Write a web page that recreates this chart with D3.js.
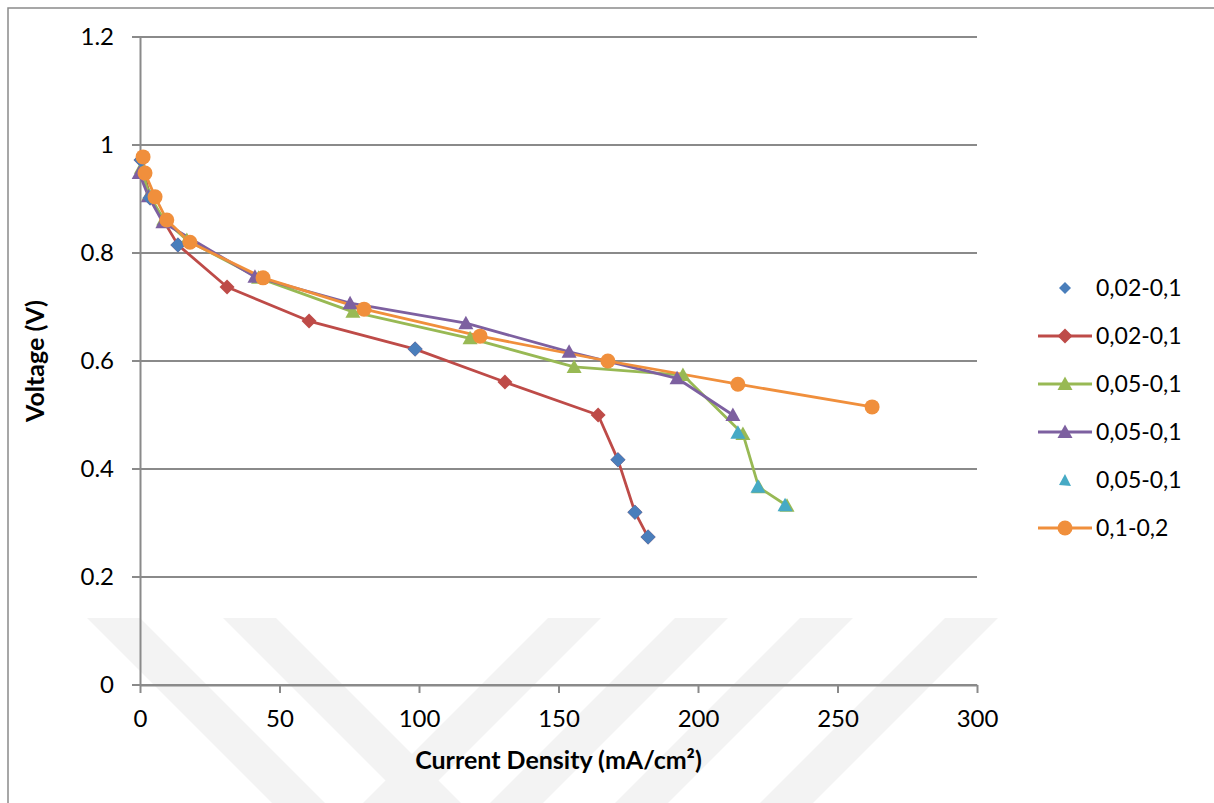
<!DOCTYPE html>
<html>
<head>
<meta charset="utf-8">
<script src="https://cdn.jsdelivr.net/npm/d3@7"></script>
<style>
  html, body { margin: 0; padding: 0; background: #fff; }
  svg text { font-family: Lato, "Open Sans", sans-serif; fill: #000; }
</style>
</head>
<body>
<div id="chart"></div>
<script>
// current density (mA/cm2) vs voltage (V)
var seriesNames = ["0,02-0,1", "0,02-0,1", "0,05-0,1", "0,05-0,1", "0,05-0,1", "0,1-0,2"];

var blueX = [0.4, 3.6, 13.6, 98.6, 171.3, 177.4, 182.1];
var blueY = [0.972, 0.902, 0.815, 0.622, 0.417, 0.320, 0.274];

var redX = [0.4, 3.6, 13.6, 31.2, 60.6, 98.6, 130.8, 164.2, 171.3, 177.4, 182.1];
var redY = [0.972, 0.902, 0.815, 0.737, 0.674, 0.622, 0.561, 0.500, 0.417, 0.320, 0.274];

var greenX = [0.5, 3.2, 8.5, 16.8, 42.5, 76.3, 118.3, 155.6, 194.6, 216.1, 221.8, 231.9];
var greenY = [0.958, 0.908, 0.862, 0.824, 0.754, 0.691, 0.642, 0.589, 0.574, 0.465, 0.366, 0.332];

var purpleX = [-0.3, 3.0, 8.2, 41.2, 75.3, 116.8, 153.8, 192.5, 212.5];
var purpleY = [0.948, 0.905, 0.857, 0.756, 0.707, 0.670, 0.617, 0.568, 0.500];

var cyanX = [214.3, 221.5, 231.2];
var cyanY = [0.467, 0.367, 0.333];

var orangeX = [1.1, 1.8, 5.4, 9.6, 17.9, 44.1, 80.3, 121.9, 167.7, 214.3, 262.4];
var orangeY = [0.978, 0.948, 0.904, 0.861, 0.820, 0.754, 0.696, 0.646, 0.600, 0.557, 0.515];

var xTicks = [0, 50, 100, 150, 200, 250, 300];
var xTickLabels = ["0", "50", "100", "150", "200", "250", "300"];
var yTicks = [0, 0.2, 0.4, 0.6, 0.8, 1, 1.2];
var yTickLabels = ["0", "0.2", "0.4", "0.6", "0.8", "1", "1.2"];

var W = 1214, H = 803;
var margin = {top: 37, right: 237, bottom: 118, left: 140};
var plotW = W - margin.left - margin.right,
    plotH = H - margin.top - margin.bottom;

var zip = function (xs, ys) { return xs.map(function (v, i) { return {x: v, y: ys[i]}; }); };

var series = [
  {name: seriesNames[0], data: zip(blueX, blueY), color: "#4a7ebb", line: false, shape: "diamond"},
  {name: seriesNames[1], data: zip(redX, redY), color: "#be4b48", line: true, shape: "diamond"},
  {name: seriesNames[2], data: zip(greenX, greenY), color: "#98b954", line: true, shape: "triangle"},
  {name: seriesNames[3], data: zip(purpleX, purpleY), color: "#7d60a0", line: true, shape: "triangle"},
  {name: seriesNames[4], data: zip(cyanX, cyanY), color: "#46aac5", line: false, shape: "triangle"},
  {name: seriesNames[5], data: zip(orangeX, orangeY), color: "#f08f3c", line: true, shape: "circle"}
];

// marker shapes like excel's
var shapes = {
  diamond: "M0,-7.5L7.5,0L0,7.5L-7.5,0Z",
  triangle: "M0,-7.5L7.5,6L-7.5,6Z",
  circle: d3.arc()({innerRadius: 0, outerRadius: 7.5, startAngle: 0, endAngle: 2 * Math.PI})
};

var svg = d3.select("#chart").append("svg")
    .attr("width", W)
    .attr("height", H);

// faint watermark stripes at the bottom
var bands = [[87, 1], [223, 1], [548, -1], [675, -1], [800, -1], [945, -1]];
svg.append("g").selectAll("path")
  .data(bands)
  .enter().append("path")
    .attr("fill", "#f3f3f3")
    .attr("d", function (b) {
      var x0 = b[0], s = b[1] * 185, top = 618, bot = H;
      return "M" + x0 + "," + top + "L" + (x0 + 53) + "," + top +
             "L" + (x0 + 53 + s) + "," + bot + "L" + (x0 + s) + "," + bot + "Z";
    });

// outer chart frame
svg.append("rect")
  .attr("x", 8).attr("y", 8)
  .attr("width", W + 20).attr("height", H + 20)
  .attr("fill", "none")
  .attr("stroke", "#8a8a8a")
  .attr("stroke-width", 1.5);

var g = svg.append("g").attr("transform", "translate(" + margin.left + "," + margin.top + ")");

var x = d3.scaleLinear().domain([0, 300]).range([0, plotW]);
var y = d3.scaleLinear().domain([0, 1.2]).range([plotH, 0]);

// horizontal gridlines
g.append("g").selectAll("line")
  .data(yTicks)
  .enter().append("line")
    .attr("x1", -8).attr("x2", plotW)
    .attr("y1", function (d) { return y(d); })
    .attr("y2", function (d) { return y(d); })
    .attr("stroke", "#8a8a8a")
    .attr("stroke-width", 2);

var yAxis = g.append("g")
  .call(d3.axisLeft(y).tickValues(yTicks)
    .tickFormat(function (d, i) { return yTickLabels[i]; })
    .tickSize(0).tickSizeOuter(0).tickPadding(26));

var xAxis = g.append("g")
  .attr("transform", "translate(0," + plotH + ")")
  .call(d3.axisBottom(x).tickValues(xTicks)
    .tickFormat(function (d, i) { return xTickLabels[i]; })
    .tickSize(8).tickSizeOuter(0).tickPadding(17));

[xAxis, yAxis].forEach(function (a) {
  a.selectAll("path, line").attr("stroke", "#8a8a8a").attr("stroke-width", 2);
  a.selectAll("text").style("font-size", "24px").attr("fill", "#000");
});

// axis titles
g.append("text")
  .attr("x", plotW / 2)
  .attr("y", plotH + 84)
  .attr("text-anchor", "middle")
  .style("font-size", "25px")
  .style("font-weight", "bold")
  .text("Current Density (mA/cm\u00b2)");

g.append("text")
  .attr("transform", "translate(" + (44 - margin.left) + "," + (plotH / 2) + ") rotate(-90)")
  .attr("text-anchor", "middle")
  .style("font-size", "25px")
  .style("font-weight", "bold")
  .text("Voltage (V)");

var line = d3.line()
  .x(function (d) { return x(d.x); })
  .y(function (d) { return y(d.y); });

// lines first, then markers on top
g.append("g").selectAll("path")
  .data(series.filter(function (s) { return s.line; }))
  .enter().append("path")
    .attr("d", function (s) { return line(s.data); })
    .attr("fill", "none")
    .attr("stroke", function (s) { return s.color; })
    .attr("stroke-width", 2.8)
    .attr("stroke-linejoin", "round");

var markerOrder = [1, 2, 3, 0, 4, 5];
markerOrder.forEach(function (k) {
  var s = series[k];
  g.append("g").selectAll("path")
    .data(s.data)
    .enter().append("path")
      .attr("transform", function (d) { return "translate(" + x(d.x) + "," + y(d.y) + ")"; })
      .attr("d", shapes[s.shape])
      .attr("fill", s.color);
});

// legend
var legend = svg.append("g").attr("transform", "translate(1065,288)");
var item = legend.selectAll("g")
  .data(series)
  .enter().append("g")
    .attr("transform", function (s, i) { return "translate(0," + (i * 48) + ")"; });

item.filter(function (s) { return s.line; }).append("line")
  .attr("x1", -27).attr("x2", 27)
  .attr("stroke", function (s) { return s.color; })
  .attr("stroke-width", 2.8);

item.append("path")
  .attr("d", function (s) { return s.line ? shapes[s.shape] : shapes[s.shape].replace(/7\.5/g, "6").replace(/,6Z/, ",5Z"); })
  .attr("fill", function (s) { return s.color; });

item.append("text")
  .attr("x", 31)
  .attr("dy", "0.36em")
  .style("font-size", "23px")
  .text(function (s) { return s.name; });
</script>
</body>
</html>
